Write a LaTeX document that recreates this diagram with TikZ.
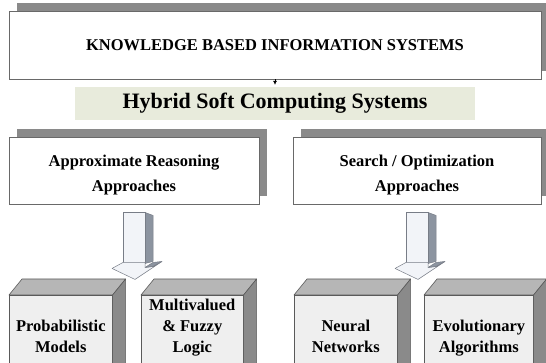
\documentclass[tikz,border=0pt]{standalone}
\usepackage{fontspec}
\setmainfont{Liberation Serif}
\usetikzlibrary{arrows.meta, positioning, shadows}

\definecolor{shadowgray}{RGB}{138,138,138}
\definecolor{framegray}{RGB}{105,105,105}
\definecolor{bandgreen}{RGB}{232,235,220}
\definecolor{cubeline}{RGB}{90,90,90}
\definecolor{cubefront}{RGB}{239,239,239}
\definecolor{cubetop}{RGB}{182,182,182}
\definecolor{cubeside}{RGB}{138,138,138}
\definecolor{arrowline}{RGB}{120,125,135}
\definecolor{arrowfront}{RGB}{242,244,248}
\definecolor{arrowside}{RGB}{140,148,160}

\begin{document}
\begin{tikzpicture}[x=1pt, y=-1pt,
    shadowbox/.style={draw=framegray, fill=white, line width=0.9pt, inner sep=0pt,
        align=center, font=\fontsize{16.5}{25}\selectfont\bfseries,
        drop shadow={shadow xshift=8pt, shadow yshift=8pt, fill=shadowgray, opacity=1}},
    boxlabel/.style={align=center, inner sep=0pt, font=\fontsize{16.5}{25}\selectfont\bfseries},
    cubeface/.style={draw=cubeline, fill=cubefront, line width=0.6pt,
        minimum height=90pt, inner sep=0pt, anchor=north west},
    cubelabel/.style={align=center, inner sep=0pt, text depth=0pt, anchor=south,
        font=\fontsize{16.5}{21}\selectfont\bfseries},
    arrowbody/.style={draw=arrowline, line width=0.5pt, line join=round}]

    \clip (0,0) rectangle (546,363);

    % top level
    \node[shadowbox, minimum width=532pt, minimum height=68pt] (kbis) at (275,45)
        {KNOWLEDGE BASED INFORMATION SYSTEMS};
    \node[fill=bandgreen, minimum width=400pt, minimum height=33pt, inner sep=0pt,
        font=\fontsize{22}{26}\selectfont\bfseries] (hscs) at (275,103.5)
        {Hybrid Soft Computing Systems};
    \draw[-{Latex[length=4pt, width=4pt]}, line width=0.6pt, shorten >=2pt] (kbis.south) -- (hscs.north);

    % the two families of approaches
    \node[shadowbox, minimum width=250pt, minimum height=67pt] (appr) at (134,170.5) {};
    \node[shadowbox, minimum width=248pt, minimum height=67pt] (srch) at (417,170.5) {};
    \node[boxlabel] (apprtxt) at ([yshift=-4.5pt]appr.center) {Approximate Reasoning\\Approaches};
    \node[boxlabel] (srchtxt) at ([yshift=-4.5pt]srch.center) {Search / Optimization\\Approaches};

    % block arrows under each box
    \foreach \src in {appr, srch} {
        \begin{scope}[shift={(\src.south)}]
            \path[arrowbody, fill=arrowside] (11,8) -- (19,11) -- (19,57) -- (11,59) -- cycle;
            \path[arrowbody, fill=arrowfront] (-11,8) rectangle (11,59);
            \path[arrowbody, fill=arrowfront] (-11,58) -- (-22,64) -- (1,75) -- (28,57)
                -- (19,62) -- (11,63) -- (11,58) -- cycle;
            \path[arrowbody, fill=arrowside] (11,63) -- (19,58) -- (28,57) -- (19,62) -- cycle;
        \end{scope}
    }

    % cubes
    \node[cubeface, minimum width=103pt] (prob) at (9,295) {};
    \node[cubeface, minimum width=102pt] (fuzzy) at (141,295) {};
    \node[cubeface, minimum width=103pt] (neural) at (294,295) {};
    \node[cubeface, minimum width=109pt] (evol) at (424,295) {};
    \foreach \c in {prob, fuzzy, neural, evol} {
        \draw[draw=cubeline, line width=0.6pt, line join=round, fill=cubetop]
            (\c.north west) -- ++(13,-16) -- ([shift={(13,-16)}]\c.north east) -- (\c.north east) -- cycle;
        \draw[draw=cubeline, line width=0.6pt, line join=round, fill=cubeside]
            (\c.north east) -- ++(13,-16) -- ([shift={(13,-16)}]\c.south east) -- (\c.south east) -- cycle;
    }

    \node[cubelabel] (probtxt) at (prob.north |- 0,353) {Probabilistic\\Models};
    \node[cubelabel] (fuzzytxt) at (fuzzy.north |- 0,353) {Multivalued\\\& Fuzzy\\Logic};
    \node[cubelabel] (neuraltxt) at (neural.north |- 0,353) {Neural\\Networks};
    \node[cubelabel] (evoltxt) at (evol.north |- 0,353) {Evolutionary\\Algorithms};
\end{tikzpicture}
\end{document}
